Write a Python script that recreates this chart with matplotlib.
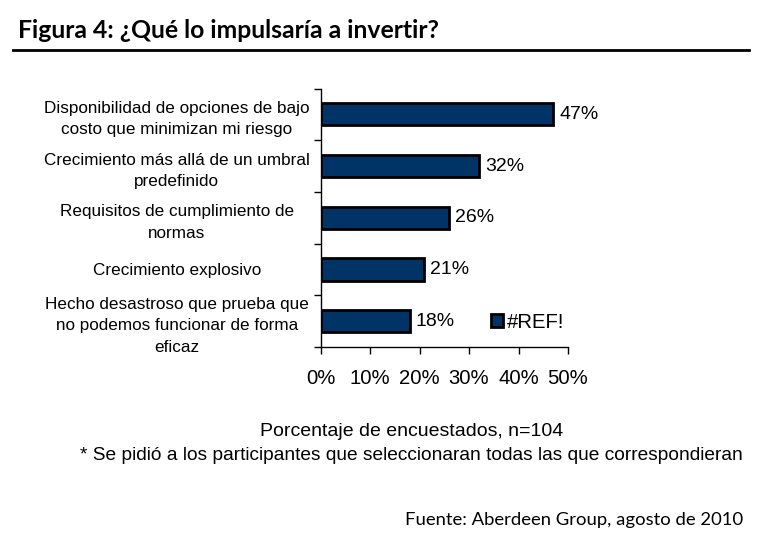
import matplotlib
matplotlib.use("Agg")
import matplotlib.pyplot as plt
import numpy as np
from matplotlib.patches import Patch
from matplotlib.ticker import FixedLocator

categories = [
    "Disponibilidad de opciones de bajo\ncosto que minimizan mi riesgo",
    "Crecimiento más allá de un umbral\npredefinido",
    "Requisitos de cumplimiento de\nnormas",
    "Crecimiento explosivo",
    "Hecho desastroso que prueba que\nno podemos funcionar de forma\neficaz",
]
values = [47, 32, 26, 21, 18]
xticks = [0, 10, 20, 30, 40, 50]
series_name = "#REF!"

bar_color = "#003366"
sans = ["Liberation Sans", "DejaVu Sans"]
gill = ["Lato", "DejaVu Sans"]

fig = plt.figure(figsize=(7.8, 5.41), dpi=100)
ax = fig.add_axes([320.5 / 780, 1 - 347 / 541, (568 - 320.5) / 780, (347 - 88.5) / 541])

n = len(categories)
y = np.arange(n)
ax.barh(y, values, height=0.43, color=bar_color, edgecolor="black", linewidth=2.0, zorder=3)
ax.set_ylim(n - 0.5, -0.5)
ax.set_xlim(0, 50)

for yi, v in zip(y, values):
    ax.text(v + 1.2, yi, f"{v}%", va="center", ha="left", fontsize=14, family=sans)

ax.set_yticks(y)
ax.set_yticklabels(categories, fontsize=12.3, family=sans, ha="center", linespacing=1.55)
ax.tick_params(axis="y", which="major", length=0, pad=103.5)
ax.yaxis.set_minor_locator(FixedLocator(np.arange(-0.5, n, 1.0)))
ax.tick_params(axis="y", which="minor", length=5, width=1, direction="out")

ax.set_xticks(xticks)
ax.set_xticklabels([f"{t}%" for t in xticks], fontsize=14.6, family=sans)
ax.tick_params(axis="x", length=5, width=1, direction="out", pad=11)

for s in ["top", "right"]:
    ax.spines[s].set_visible(False)
for s in ["left", "bottom"]:
    ax.spines[s].set_linewidth(1)

leg = ax.legend(handles=[Patch(facecolor=bar_color, edgecolor="black", linewidth=2.0, label=series_name)],
                loc="center left", bbox_to_anchor=(491 / 780, 1 - 322 / 541),
                bbox_transform=fig.transFigure, frameon=False,
                prop={"family": sans, "size": 14.6}, handlelength=0.6, handleheight=0.6,
                handletextpad=0.2, borderaxespad=0, borderpad=0)

fig.text(18 / 780, 1 - 30 / 541, "Figura 4: ¿Qué lo impulsaría a invertir?", fontsize=17.8,
         fontweight="bold", family=gill, va="center", ha="left")
fig.add_artist(plt.Line2D([13 / 780, 749 / 780], [1 - 50 / 541, 1 - 50 / 541],
                          color="black", linewidth=2.0, transform=fig.transFigure))

fig.text(412 / 780, 1 - 432 / 541, "Porcentaje de encuestados, n=104", fontsize=14,
         family=sans, ha="center", va="center")
fig.text(411.5 / 780, 1 - 455 / 541,
         "* Se pidió a los participantes que seleccionaran todas las que correspondieran",
         fontsize=13.8, family=sans, ha="center", va="center")
fig.text(743 / 780, 1 - 520 / 541, "Fuente: Aberdeen Group, agosto de 2010", fontsize=13.3,
         family=gill, ha="right", va="center")

fig.savefig("out.png", dpi=100)
